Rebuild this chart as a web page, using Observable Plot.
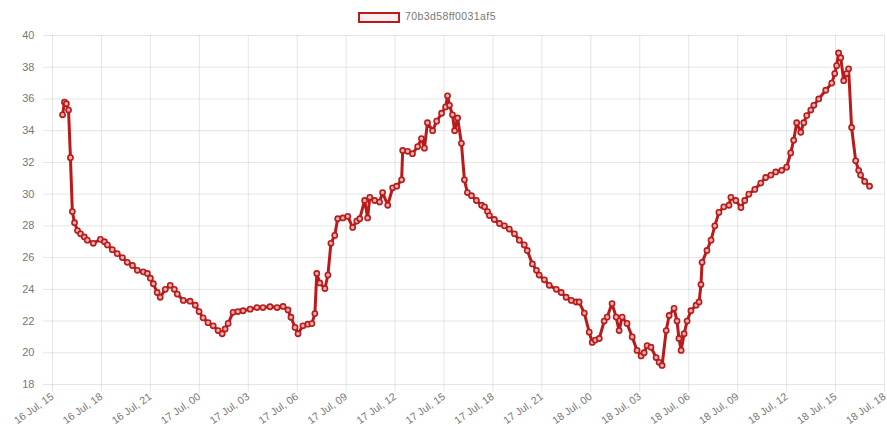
<!DOCTYPE html>
<html>
<head>
<meta charset="utf-8">
<script src="https://cdn.jsdelivr.net/npm/d3@7"></script>
<script src="https://cdn.jsdelivr.net/npm/@observablehq/plot@0.6"></script>
<style>
  html, body { margin: 0; padding: 0; background: #fff; }
  body { width: 887px; height: 432px; overflow: hidden; font-family: "Liberation Sans", Arial, sans-serif; }
  #legend { height: 25px; position: relative; font-size: 10.5px; color: #777; letter-spacing: 0.4px; }
  #legend .box { position: absolute; left: 358px; top: 12px; width: 38px; height: 7px; border: 2px solid #bb1a1a; background: #fbeeee; }
  #legend .lbl { position: absolute; left: 405px; top: 10px; }
  #chart svg { display: block; }
</style>
</head>
<body>
<div id="legend"><span class="box"></span><span class="lbl">70b3d58ff0031af5</span></div>
<div id="chart"></div>
<script>
// Series name
const seriesName = "70b3d58ff0031af5";
// Timestamps ("day hh:mm", July 2018)
const times = [
  "16 15:37","16 15:44","16 15:51","16 15:59","16 16:06","16 16:13","16 16:21","16 16:32","16 16:43","16 16:57",
  "16 17:08","16 17:30","16 17:56","16 18:11","16 18:22","16 18:40","16 18:58","16 19:17","16 19:35","16 19:54",
  "16 20:12","16 20:34","16 20:49","16 21:00","16 21:11","16 21:25","16 21:36","16 21:55","16 22:13","16 22:28",
  "16 22:39","16 23:01","16 23:26","16 23:45","16 23:59","17 00:14","17 00:32","17 00:51","17 01:09","17 01:24",
  "17 01:35","17 01:46","17 02:04","17 02:22","17 02:41","17 03:07","17 03:32","17 03:54","17 04:20","17 04:46",
  "17 05:08","17 05:26","17 05:37","17 05:52","17 06:03","17 06:21","17 06:39","17 06:54","17 07:05","17 07:12",
  "17 07:23","17 07:42","17 07:53","17 08:04","17 08:18","17 08:29","17 08:48","17 09:06","17 09:24","17 09:39",
  "17 09:50","17 10:08","17 10:19","17 10:27","17 10:45","17 11:03","17 11:14","17 11:33","17 11:51","17 12:06",
  "17 12:24","17 12:28","17 12:46","17 13:04","17 13:23","17 13:37","17 13:48","17 13:59","17 14:18","17 14:33",
  "17 14:51","17 15:06","17 15:13","17 15:20","17 15:31","17 15:39","17 15:50","17 16:04","17 16:15","17 16:26",
  "17 16:41","17 16:59","17 17:18","17 17:29","17 17:40","17 17:47","17 18:05","17 18:24","17 18:42","17 19:00",
  "17 19:19","17 19:37","17 19:55","17 20:06","17 20:25","17 20:40","17 20:50","17 21:09","17 21:27","17 21:53",
  "17 22:11","17 22:29","17 22:48","17 23:06","17 23:17","17 23:36","17 23:54","18 00:05","18 00:16","18 00:31",
  "18 00:49","18 01:00","18 01:18","18 01:33","18 01:44","18 01:55","18 02:13","18 02:32","18 02:50","18 03:05",
  "18 03:16","18 03:27","18 03:41","18 04:00","18 04:11","18 04:22","18 04:37","18 04:48","18 05:06","18 05:17",
  "18 05:24","18 05:32","18 05:43","18 05:54","18 06:08","18 06:27","18 06:38","18 06:45","18 06:49","18 07:07",
  "18 07:22","18 07:36","18 07:51","18 08:09","18 08:28","18 08:35","18 08:53","18 09:12","18 09:26","18 09:41",
  "18 10:03","18 10:25","18 10:43","18 11:02","18 11:20","18 11:42","18 12:00","18 12:15","18 12:26","18 12:37",
  "18 12:52","18 13:03","18 13:14","18 13:29","18 13:40","18 13:58","18 14:24","18 14:46","18 14:57","18 15:04",
  "18 15:11","18 15:19","18 15:30","18 15:41","18 15:48","18 15:59","18 16:14","18 16:25","18 16:32","18 16:47",
  "18 17:05"
];
// Values
const values = [
  35.0,35.8,35.7,35.3,32.3,28.9,28.2,27.7,27.5,27.3,
  27.1,26.9,27.15,27.0,26.8,26.5,26.25,26.0,25.7,25.5,
  25.2,25.1,25.0,24.7,24.35,23.8,23.5,24.0,24.25,24.0,
  23.7,23.3,23.25,23.0,22.6,22.2,21.9,21.7,21.4,21.2,
  21.5,21.85,22.55,22.6,22.65,22.75,22.85,22.85,22.9,22.85,
  22.92,22.7,22.24,21.6,21.2,21.7,21.8,21.84,22.47,25.0,
  24.4,24.05,24.9,26.9,27.4,28.45,28.5,28.6,27.9,28.3,
  28.45,29.6,28.5,29.8,29.6,29.5,30.1,29.3,30.4,30.5,
  30.9,32.75,32.7,32.55,33.0,33.5,32.9,34.5,34.0,34.6,
  35.1,35.5,36.2,35.6,35.0,34.0,34.8,33.2,30.9,30.1,
  29.9,29.6,29.3,29.2,28.9,28.65,28.4,28.15,28.0,27.8,
  27.5,27.1,26.8,26.45,25.6,25.2,24.9,24.6,24.25,24.0,
  23.8,23.5,23.3,23.2,23.2,22.5,21.3,20.65,20.8,20.9,
  22.0,22.25,23.1,22.25,21.4,22.25,21.85,21.0,20.15,19.8,
  20.0,20.45,20.35,19.7,19.4,19.2,21.4,22.35,22.8,22.0,
  20.9,20.15,21.2,22.0,22.65,23.0,23.2,24.3,25.7,26.45,
  27.1,28.0,28.85,29.2,29.3,29.8,29.6,29.15,29.6,30.0,
  30.3,30.7,31.05,31.2,31.4,31.5,31.7,32.6,33.4,34.5,
  33.9,34.5,34.95,35.3,35.6,36.0,36.55,37.0,37.6,38.1,
  38.9,38.6,37.15,37.6,37.9,34.2,32.1,31.5,31.2,30.8,
  30.5
];
// Axis ticks
const yTicks = [18,20,22,24,26,28,30,32,34,36,38,40];
const xStart = "16 15:00";
const xEnd = "18 18:00";

function parseT(s) {
  const [d, hm] = s.split(" ");
  const [h, m] = hm.split(":").map(Number);
  return new Date(Date.UTC(2018, 6, +d, h, m));
}
const data = times.map((t, i) => ({time: parseT(t), value: values[i]}));
const x0 = parseT(xStart), x1 = parseT(xEnd);
const xTicks = d3.utcHour.every(3).range(x0, new Date(+x1 + 1));
const fmt = d3.utcFormat("%d %b, %H");

const lineColor = "#bb1a1a";
const grid = "rgba(0,0,0,0.1)";

const chart = Plot.plot({
  width: 887,
  height: 407,
  marginTop: 10,
  marginBottom: 48,
  marginLeft: 52,
  marginRight: 3,
  style: {fontFamily: "'Liberation Sans', Arial, sans-serif", fontSize: "10.5px", color: "#777", background: "#fff"},
  x: {type: "utc", domain: [x0, x1]},
  y: {domain: [18, 40]},
  marks: [
    Plot.ruleY(yTicks, {stroke: grid}),
    Plot.ruleX(xTicks, {stroke: grid}),
    Plot.axisY({ticks: yTicks, tickSize: 9, tickPadding: 9, stroke: grid, fill: "#777", fontSize: 11, label: null}),
    Plot.axisX({ticks: xTicks, tickSize: 8, tickPadding: 3, tickRotate: -35, tickFormat: fmt, stroke: grid, fill: "#777", fontSize: 10.5, label: null}),
    Plot.line(data, {x: "time", y: "value", stroke: lineColor, strokeWidth: 3}),
    Plot.dot(data, {x: "time", y: "value", r: 2.6, stroke: lineColor, strokeWidth: 1.6, fill: "#e9b0b0"})
  ]
});
document.getElementById("chart").appendChild(chart);
</script>
</body>
</html>
